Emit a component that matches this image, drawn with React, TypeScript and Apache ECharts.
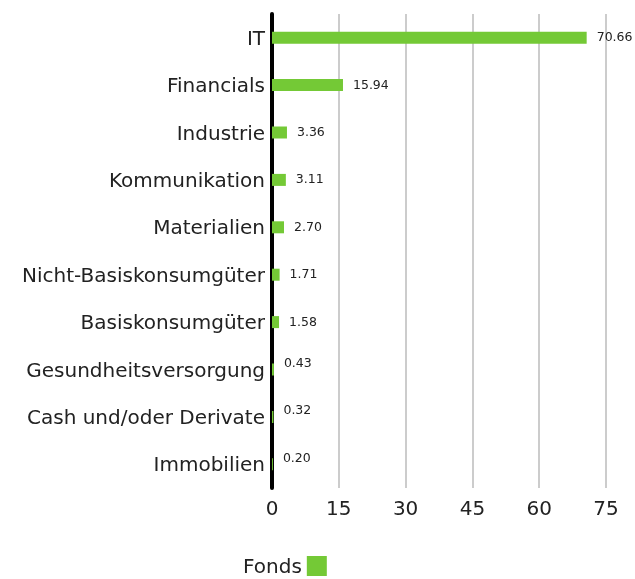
import React, { useEffect, useRef } from "react";
import * as echarts from "echarts";

const categories = [
  "IT",
  "Financials",
  "Industrie",
  "Kommunikation",
  "Materialien",
  "Nicht-Basiskonsumgüter",
  "Basiskonsumgüter",
  "Gesundheitsversorgung",
  "Cash und/oder Derivate",
  "Immobilien",
];
const fondsValues = [70.66, 15.94, 3.36, 3.11, 2.7, 1.71, 1.58, 0.43, 0.32, 0.2];
const seriesName = "Fonds";

export default function App() {
  const ref = useRef<HTMLDivElement>(null);
  useEffect(() => {
    if (!ref.current) return;
    const chart = echarts.init(ref.current, null, { renderer: "svg" });
    const font = "'DejaVu Sans', sans-serif";
    const data = fondsValues.map((v) => ({
      value: v,
      label: { offset: [0, v < 1 ? -7 : -1] },
    }));
    chart.setOption({
      animation: false,
      textStyle: { fontFamily: font },
      grid: { left: 272, right: 29, top: 14, bottom: 91, containLabel: false },
      legend: {
        data: [{ name: seriesName, icon: "rect" }],
        top: 556,
        left: 243,
        padding: 0,
        align: "right",
        itemWidth: 20,
        itemHeight: 20,
        itemGap: 6,
        textStyle: { fontSize: 20, color: "#222", fontFamily: font, lineHeight: 20 },
      },
      xAxis: {
        type: "value",
        min: 0,
        max: 75,
        interval: 15,
        axisLine: { show: false },
        axisTick: { show: false },
        splitLine: { show: true, lineStyle: { color: "#cccccc", width: 2 } },
        axisLabel: { fontSize: 20, color: "#222", margin: 10, fontFamily: font },
      },
      yAxis: {
        type: "category",
        data: categories,
        inverse: true,
        axisLine: { show: true, lineStyle: { color: "#000", width: 4 } },
        axisTick: { show: false },
        axisLabel: { fontSize: 20, color: "#222", margin: 7, fontFamily: font },
      },
      series: [
        {
          name: seriesName,
          type: "bar",
          data,
          barWidth: 12,
          itemStyle: { color: "#74c936" },
          label: {
            show: true,
            position: "right",
            distance: 10,
            fontSize: 12.5,
            color: "#222",
            fontFamily: font,
            formatter: (p: any) => Number(p.value).toFixed(2),
          },
        },
      ],
    });
    return () => chart.dispose();
  }, []);
  return (
    <div
      ref={ref}
      style={{ position: "fixed", left: 0, top: 0, width: 635, height: 579 }}
    />
  );
}
